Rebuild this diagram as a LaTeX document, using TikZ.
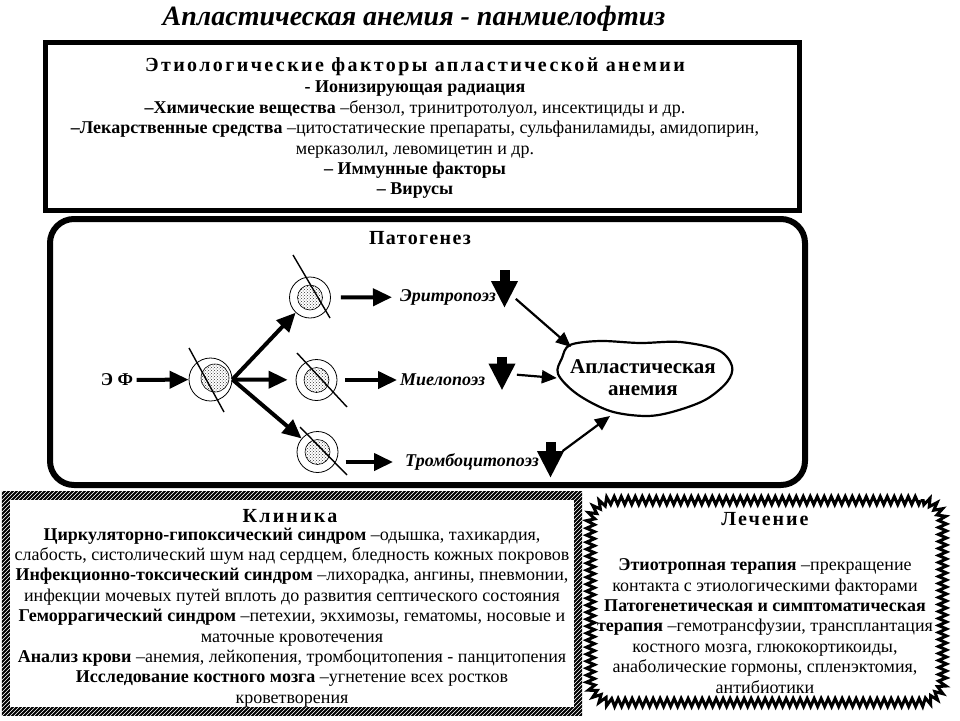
\documentclass[tikz,border=0pt]{standalone}
\usepackage{fontspec}
\setmainfont{Liberation Serif}
\usetikzlibrary{arrows.meta,shapes.geometric,patterns,decorations.pathmorphing}

\begin{document}
\begin{tikzpicture}[x=1pt,y=-1pt,
  box/.style={draw,line width=#1,inner sep=0pt},
  cell/.style={circle,draw,line width=0.8pt,minimum size=41pt,inner sep=0pt},
  nucl/.style={circle,draw,line width=0.6pt,pattern=crosshatch dots,pattern color=black!80,minimum size=25pt,inner sep=0pt},
  cut/.style={line width=1.4pt},
  go/.style={line width=4pt,-{Triangle[length=19pt,width=17pt]}},
  into/.style={line width=2.2pt,-{Triangle[length=15pt,width=13pt]}},
  fall/.style={line width=10pt,-{Triangle[length=27pt,width=25pt]}},
  poez/.style={font=\fontsize{18}{20}\selectfont\bfseries\itshape,inner sep=0pt,anchor=west},
  txt/.style={align=center,inner sep=0pt,font=\fontsize{18}{20.4}\selectfont},
  head/.style={inner sep=0pt,font=\fontsize{20}{22}\selectfont\bfseries\addfontfeatures{LetterSpace=#1}},
  head/.default=12
]
\useasboundingbox (0,0) rectangle (960,720);

\node[font=\fontsize{28}{30}\selectfont\bfseries\itshape] (ttl) at (414,19) {Апластическая анемия - панмиелофтиз};

\node[box=5pt,minimum width=754pt,minimum height=168pt] (etio) at (422.5,126.5) {};
\node[head] (etiohd) at (415,67) {Этиологические факторы апластической анемии};
\node[txt] (etiotx) at (415,140) {\textbf{- Ионизирующая радиация}\\
  \textbf{–Химические вещества} –бензол, тринитротолуол, инсектициды и др.\\
  \textbf{–Лекарственные средства} –цитостатические препараты, сульфаниламиды, амидопирин,\\
  мерказолил, левомицетин и др.\\
  \textbf{– Иммунные факторы}\\
  \textbf{– Вирусы}};

\node[box=6pt,rounded corners=24pt,minimum width=755pt,minimum height=266pt] (pat) at (427.5,352) {};
\node[head=7] (pathd) at (420,238) {Патогенез};

\node[font=\fontsize{18}{20}\selectfont\bfseries] (ef) at (117,380) {Э Ф};
\node[cell,minimum size=43pt] (c0) at (210.5,379.5) {};
\node[nucl,minimum size=28pt] (n0) at (215,378) {};
\node[cell] (c1) at (310,297.5) {};
\node[nucl] (n1) at (c1) {};
\node[cell] (c2) at (316.5,380) {};
\node[nucl] (n2) at (c2) {};
\node[cell] (c3) at (317.5,452) {};
\node[nucl] (n3) at (c3) {};
\draw[cut] ([shift={(-21.5,-31.5)}]c0.center) -- ([shift={(13.5,32.5)}]c0.center);
\draw[cut] ([shift={(-17,-42.5)}]c1.center) -- ([shift={(20,20.5)}]c1.center);
\draw[cut] ([shift={(-19.5,-27)}]c2.center) -- ([shift={(30.5,27)}]c2.center);
\draw[cut] ([shift={(-17.5,-25)}]c3.center) -- ([shift={(29.5,23)}]c3.center);

\node[poez] (eri) at (400,297) {Эритропоэз};
\node[poez] (mie) at (400,380) {Миелопоэз};
\node[poez] (tro) at (405,462) {Тромбоцитопоэз};
\coordinate (eridn) at (504.5,289);
\coordinate (miedn) at (502,373.5);
\coordinate (trodn) at (550.5,460);
\draw[fall] ([yshift=19pt]eridn) -- ([yshift=-19pt]eridn);
\draw[fall] ([yshift=17pt]miedn) -- ([yshift=-17pt]miedn);
\draw[fall] ([yshift=18pt]trodn) -- ([yshift=-18pt]trodn);

\node[minimum width=176pt,minimum height=76pt,inner sep=0pt,align=center,
  font=\fontsize{21}{22}\selectfont\bfseries] (aa) at (643,378) {Апластическая\\анемия};
\draw[line width=2.2pt] plot[smooth cycle,tension=0.55] coordinates {(570,345) (600,341) (640,343) (680,342)
  (718,350) (732,366) (727,382) (705,400) (672,412) (645,416) (610,411) (577,394) (558,374) (562,358)};

\draw[go] (ef) -- (c0);
\draw[go] (c0.east) -- (c1);
\draw[go,shorten >=8pt] (c0.east) -- (c2);
\draw[go] (c0.east) -- (c3);
\draw[go,shorten <=10pt,shorten >=8pt] (c1) -- (eri);
\draw[go,shorten <=8pt,shorten >=3pt] (c2) -- (mie);
\coordinate (c3out) at ([shift={(28,10)}]c3.center);
\draw[go,shorten >=12pt] (c3out) -- (tro.west);
\draw[into,shorten <=15pt] (eridn) -- ([shift={(-72,-31)}]aa.center);
\draw[into,shorten <=15pt] (miedn) -- ([xshift=2pt]aa.west);
\draw[into,shorten <=15pt] (trodn) -- ([shift={(-33,38)}]aa.center);

\node[minimum width=580pt,minimum height=223pt,inner sep=0pt] (kl) at (292,603.5) {};
\begin{scope}
  \clip (kl.north west) rectangle (kl.south east);
  \foreach \i in {0,4,...,840} \draw[line width=1.8pt] (\i-240,720) -- (\i,480);
\end{scope}
\fill[white] ([shift={(8,8)}]kl.north west) rectangle ([shift={(-8,-8)}]kl.south east);
\node[head=11] (klhd) at (290,516) {Клиника};
\node[txt] (kltx) at (292,617.5) {\textbf{Циркуляторно-гипоксический синдром} –одышка, тахикардия,\\
  слабость, систолический шум над сердцем, бледность кожных покровов\\
  \textbf{Инфекционно-токсический синдром} –лихорадка, ангины, пневмонии,\\
  инфекции мочевых путей вплоть до развития септического состояния\\
  \textbf{Геморрагический синдром} –петехии, экхимозы, гематомы, носовые и\\
  маточные кровотечения\\
  \textbf{Анализ крови} –анемия, лейкопения, тромбоцитопения - панцитопения\\
  \textbf{Исследование костного мозга} –угнетение всех ростков\\
  кроветворения};

\node[rounded corners=22pt,postaction={draw,line width=3pt,sharp corners,decorate,
  decoration={zigzag,segment length=7pt,amplitude=4pt}},
  minimum width=352pt,minimum height=202pt,inner sep=0pt] (lech) at (766.5,601.5) {};
\node[head=10] (lechd) at (765,519) {Лечение};
\node[txt] (lectx) at (765,626) {\textbf{Этиотропная терапия} –прекращение\\
  контакта с этиологическими факторами\\
  \textbf{Патогенетическая и симптоматическая}\\
  \textbf{терапия} –гемотрансфузии, трансплантация\\
  костного мозга, глюкокортикоиды,\\
  анаболические гормоны, спленэктомия,\\
  антибиотики};
\end{tikzpicture}
\end{document}
